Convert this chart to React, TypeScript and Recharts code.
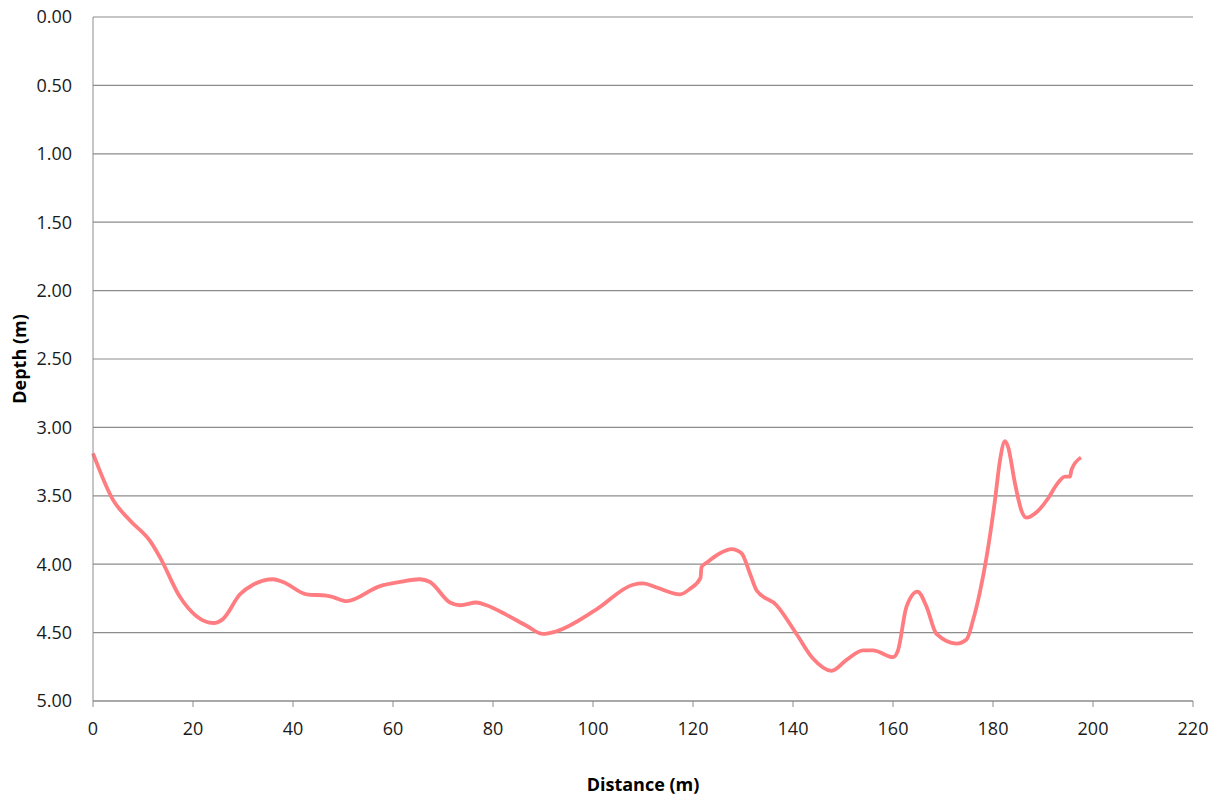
import React from "react";
import { LineChart, Line, XAxis, YAxis, CartesianGrid } from "recharts";

const distances = [
  0, 4, 7.4, 11.4, 13.4, 17.4, 20.7, 24.1, 26, 29.4, 32, 36, 38, 42.7, 46.7, 48, 50.7, 57.4, 61.4, 65.4,
  67.4, 71.4, 73.4, 76.7, 78.7, 82.7, 86.7, 90, 92.7, 100.7, 108, 110, 112.7, 117.4, 119.4, 121.5, 121.7,
  122.7, 125.4, 127.7, 129.7, 131.4, 132.7, 136.7, 140.7, 144, 147.7, 150.7, 154, 156, 160, 161, 162.7,
  164.9, 166.7, 168.7, 172.7, 174.7, 176, 177.4, 178.7, 180.4, 181.4, 182.4, 183, 184.4, 185.7, 186.7,
  188.7, 191, 192.7, 194.4, 195.4, 195.7, 197.6,
];

const depths = [
  3.19, 3.53, 3.68, 3.83, 3.95, 4.24, 4.38, 4.43, 4.4, 4.22, 4.15, 4.11, 4.13, 4.22, 4.23, 4.24, 4.27, 4.16,
  4.13, 4.11, 4.13, 4.28, 4.3, 4.28, 4.3, 4.37, 4.45, 4.51, 4.49, 4.33, 4.15, 4.14, 4.17, 4.22, 4.18, 4.1,
  4.02, 3.99, 3.92, 3.89, 3.92, 4.07, 4.19, 4.3, 4.51, 4.69, 4.78, 4.7, 4.63, 4.63, 4.68, 4.63, 4.31, 4.2,
  4.31, 4.51, 4.58, 4.55, 4.41, 4.2, 3.95, 3.53, 3.24, 3.1, 3.14, 3.41, 3.61, 3.66, 3.62, 3.52, 3.42, 3.36,
  3.36, 3.31, 3.22,
];

const xTicks = [0, 20, 40, 60, 80, 100, 120, 140, 160, 180, 200, 220];
const yTicks = [0, 0.5, 1, 1.5, 2, 2.5, 3, 3.5, 4, 4.5, 5];

const data = distances.map((d, i) => ({ distance: d, depth: depths[i] }));

const FONT = "'Open Sans', sans-serif";
const tickStyle = { fontFamily: FONT, fontSize: 18, fill: "#1a1a1a" };

export default function App() {
  return (
    <div style={{ position: "absolute", left: 0, top: 0, width: 1220, height: 803, background: "#fff" }}>
      <LineChart
        width={1220}
        height={803}
        data={data}
        margin={{ top: 17, right: 27, left: 0, bottom: 0 }}
      >
        <CartesianGrid vertical={false} stroke="#8c8c8c" strokeWidth={1.2} />
        <XAxis
          dataKey="distance"
          type="number"
          domain={[0, 220]}
          ticks={xTicks}
          interval={0}
          height={102}
          stroke="#8c8c8c"
          tickSize={6}
          tickMargin={15}
          tick={tickStyle}
          label={{
            value: "Distance (m)",
            position: "insideBottom",
            offset: 12,
            style: { fontFamily: FONT, fontSize: 18, fontWeight: 700, fill: "#000" },
          }}
        />
        <YAxis
          type="number"
          reversed
          domain={[0, 5]}
          ticks={yTicks}
          interval={0}
          width={93}
          stroke="#8c8c8c"
          tickLine={false}
          tickSize={0}
          tickMargin={21}
          tick={tickStyle}
          tickFormatter={(v: number) => v.toFixed(2)}
          label={{
            value: "Depth (m)",
            angle: -90,
            position: "insideLeft",
            offset: 20,
            style: { fontFamily: FONT, fontSize: 18, fontWeight: 700, fill: "#000", textAnchor: "middle" },
          }}
        />
        <Line
          type="monotone"
          dataKey="depth"
          stroke="#ff7c80"
          strokeWidth={3.8}
          dot={false}
          isAnimationActive={false}
        />
      </LineChart>
    </div>
  );
}
